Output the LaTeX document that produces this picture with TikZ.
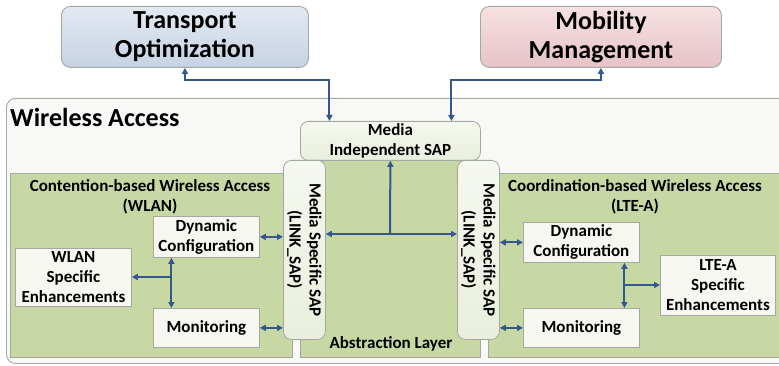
\documentclass[tikz,border=0pt]{standalone}
\usepackage{fontspec}
\setmainfont{Carlito}
\usetikzlibrary{arrows.meta}
\definecolor{link}{HTML}{35578C}
\definecolor{frame}{HTML}{A3A8A0}
\definecolor{region}{HTML}{C7D8A5}
\definecolor{outerbg}{HTML}{F8F8F6}
\definecolor{sapfill}{HTML}{E9EFDC}
\definecolor{boxfill}{HTML}{F6F7F1}
\definecolor{trtop}{HTML}{E3E9F2}
\definecolor{trbot}{HTML}{C6D2E3}
\definecolor{mmtop}{HTML}{F6E1E2}
\definecolor{mmbot}{HTML}{E6C3C6}
\begin{document}
\begin{tikzpicture}[x=1pt,y=-1pt,font=\bfseries,
  corner/.style={anchor=north west,inner sep=0pt,align=center},
  topbox/.style={corner,draw=frame,line width=0.9pt,rounded corners=9pt,
    font=\bfseries\fontsize{26}{29}\selectfont},
  zone/.style={corner,draw=frame,line width=0.7pt,fill=region},
  sapbox/.style={corner,rounded corners=8pt,draw=frame,line width=0.8pt,
    top color=sapfill!45!white,bottom color=sapfill,
    font=\bfseries\fontsize{17}{20}\selectfont},
  unit/.style={corner,draw=frame,line width=0.8pt,fill=boxfill,
    font=\bfseries\fontsize{17}{20}\selectfont},
  label/.style={inner sep=0pt,align=center,font=\bfseries\fontsize{17}{20}\selectfont},
  zonetitle/.style={label,font=\bfseries\fontsize{17}{20}\selectfont},
  conn/.style={draw=link,line width=2pt,
    arrows={-Triangle[length=6pt,width=6pt]}},
  biconn/.style={conn,arrows={Triangle[length=6pt,width=6pt]-Triangle[length=6pt,width=6pt]}}]
\useasboundingbox (0,0) rectangle (779,366);
\clip (0,0) rectangle (779,366);
\fill[white] (0,0) rectangle (779,366);

% upper-layer functions
\node[topbox,top color=trtop,bottom color=trbot,
  minimum width=247pt,minimum height=61pt] (tr) at (61,6) {Transport\\Optimization};
\node[topbox,top color=mmtop,bottom color=mmbot,
  minimum width=241pt,minimum height=61pt] (mm) at (480,6) {Mobility\\Management};

% wireless access frame
\node[corner,draw=frame,line width=0.9pt,fill=outerbg,rounded corners=9pt,
  minimum width=790pt,minimum height=265pt] (wa) at (6,98) {};
\node[anchor=west,inner sep=0pt,font=\bfseries\fontsize{26}{29}\selectfont]
  (watitle) at (10,117) {Wireless Access};

% access technology zones
\node[zone,minimum width=282pt,minimum height=184pt] (wlanzone) at (10,173) {};
\node[zone,minimum width=180pt,minimum height=197pt] (abszone) at (300,160) {};
\node[zone,minimum width=300pt,minimum height=184pt] (ltezone) at (488,173) {};

\node[zonetitle] (wlantitle) at (150,197) {Contention-based Wireless Access\\(WLAN)};
\node[zonetitle] (ltetitle) at (635,197) {Coordination-based Wireless Access\\(LTE-A)};
\node[zonetitle] (abstitle) at (391,344) {Abstraction Layer};

% service access points
\node[sapbox,minimum width=180pt,minimum height=39pt] (mis) at (300,121) {Media\\Independent SAP};
\node[sapbox,minimum width=42pt,minimum height=179pt] (lsap) at (283,160) {};
\node[label,rotate=-90] (lsaptext) at (lsap.center) {Media Specific SAP\\(LINK\_SAP)};
\node[sapbox,minimum width=42pt,minimum height=179pt] (rsap) at (457,160) {};
\node[label,rotate=-90] (rsaptext) at (rsap.center) {Media Specific SAP\\(LINK\_SAP)};

% WLAN side functions
\node[unit,minimum width=106pt,minimum height=41pt] (ldc) at (153,216) {Dynamic\\Configuration};
\node[unit,minimum width=106pt,minimum height=39pt] (lmon) at (153,308) {Monitoring};
\node[unit,minimum width=116pt,minimum height=58pt] (wlan) at (15,248) {WLAN\\Specific\\Enhancements};

% LTE-A side functions
\node[unit,minimum width=116pt,minimum height=40pt] (rdc) at (523,222) {Dynamic\\Configuration};
\node[unit,minimum width=116pt,minimum height=39pt] (rmon) at (523,308) {Monitoring};
\node[unit,minimum width=115pt,minimum height=60pt] (lte) at (660,255) {LTE-A\\Specific\\Enhancements};

% links to the upper layer
\draw[biconn] (tr.south) -- ++(0,12) -| ([xshift=-61pt]mis.north);
\draw[biconn] (mm.south) -- ++(0,12) -| ([xshift=61pt]mis.north);

% abstraction layer fan-out
\coordinate (hub) at (390,234);
\draw[conn] (hub) -- (mis.south);
\draw[conn] (hub) -- (hub -| lsap.east);
\draw[conn] (hub) -- (hub -| rsap.west);

% WLAN side links
\draw[biconn] (ldc.east) -- (ldc.east -| lsap.west);
\draw[biconn] (lmon.east) -- (lmon.east -| lsap.west);
\draw[biconn] ([xshift=-35pt]ldc.south) -- ([xshift=-35pt]lmon.north);
\coordinate (ljoin) at (171,277);
\draw[conn] (ljoin) -- (ljoin -| wlan.east);

% LTE-A side links
\draw[biconn] (rsap.east |- rdc.west) -- (rdc.west);
\draw[biconn] (rsap.east |- rmon.west) -- (rmon.west);
\draw[biconn] ([xshift=43pt]rdc.south) -- ([xshift=43pt]rmon.north);
\coordinate (rjoin) at (624,285);
\draw[conn] (rjoin) -- (rjoin -| lte.west);
\end{tikzpicture}
\end{document}
